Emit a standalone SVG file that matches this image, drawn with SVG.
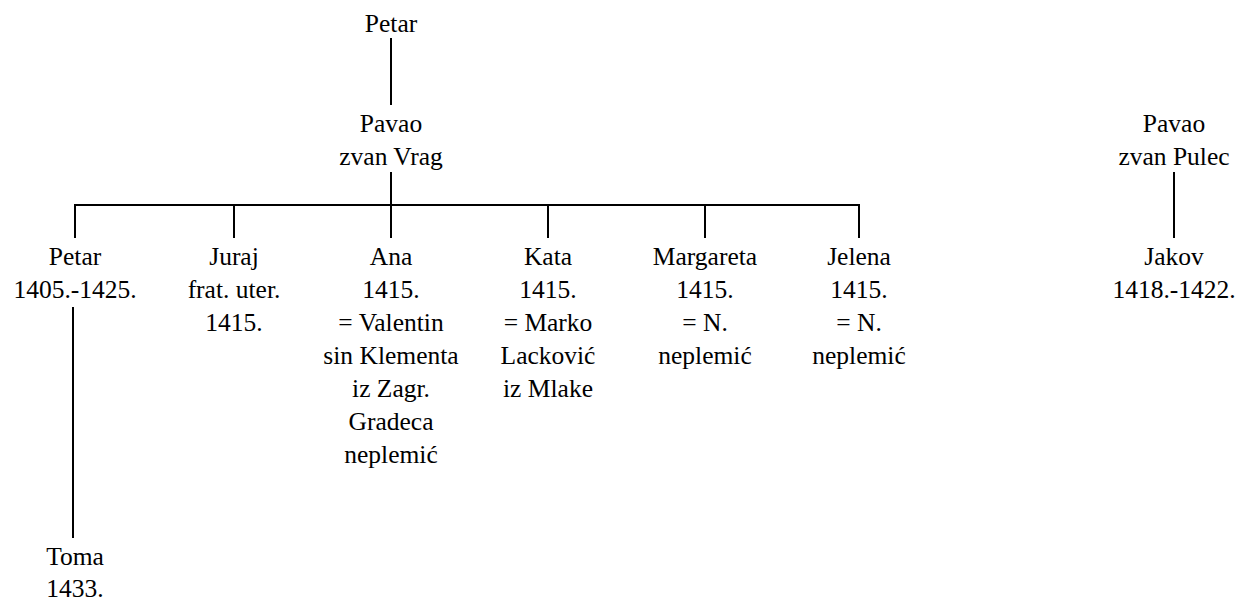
<svg xmlns="http://www.w3.org/2000/svg" width="1242" height="601" viewBox="0 0 1242 601">
<style>
text{font-size:25.5px;fill:#000;text-anchor:middle}
.c line{stroke:#000;stroke-width:2}
</style>
<rect width="1242" height="601" fill="#fff"/>
<g class="c" id="connectors">
<line x1="391" y1="38" x2="391" y2="105"/>
<line x1="391" y1="172" x2="391" y2="238"/>
<line x1="74" y1="205" x2="860" y2="205"/>
<line x1="75" y1="205" x2="75" y2="238"/>
<line x1="234" y1="205" x2="234" y2="238"/>
<line x1="548" y1="205" x2="548" y2="238"/>
<line x1="705" y1="205" x2="705" y2="238"/>
<line x1="859" y1="205" x2="859" y2="238"/>
<line x1="73" y1="307" x2="73" y2="538"/>
<line x1="1174" y1="172" x2="1174" y2="238"/>
</g>
<g font-family="Liberation Serif, serif">
<g id="n-petar-top"><text x="391" y="32">Petar</text></g>
<g id="n-pavao-vrag"><text x="391" y="132">Pavao</text><text x="391" y="165">zvan Vrag</text></g>
<g id="n-petar"><text x="75" y="265">Petar</text><text x="75" y="298">1405.-1425.</text></g>
<g id="n-juraj"><text x="234" y="265">Juraj</text><text x="234" y="298">frat. uter.</text><text x="234" y="331">1415.</text></g>
<g id="n-ana"><text x="391" y="265">Ana</text><text x="391" y="298">1415.</text><text x="391" y="331">= Valentin</text><text x="391" y="364">sin Klementa</text><text x="391" y="397">iz Zagr.</text><text x="391" y="430">Gradeca</text><text x="391" y="463">neplemić</text></g>
<g id="n-kata"><text x="548" y="265">Kata</text><text x="548" y="298">1415.</text><text x="548" y="331">= Marko</text><text x="548" y="364">Lacković</text><text x="548" y="397">iz Mlake</text></g>
<g id="n-margareta"><text x="705" y="265">Margareta</text><text x="705" y="298">1415.</text><text x="705" y="331">= N.</text><text x="705" y="364">neplemić</text></g>
<g id="n-jelena"><text x="859" y="265">Jelena</text><text x="859" y="298">1415.</text><text x="859" y="331">= N.</text><text x="859" y="364">neplemić</text></g>
<g id="n-pavao-pulec"><text x="1174" y="132">Pavao</text><text x="1174" y="165">zvan Pulec</text></g>
<g id="n-jakov"><text x="1174" y="265">Jakov</text><text x="1174" y="298">1418.-1422.</text></g>
<g id="n-toma"><text x="75" y="565">Toma</text><text x="75" y="597">1433.</text></g>
</g>
</svg>
